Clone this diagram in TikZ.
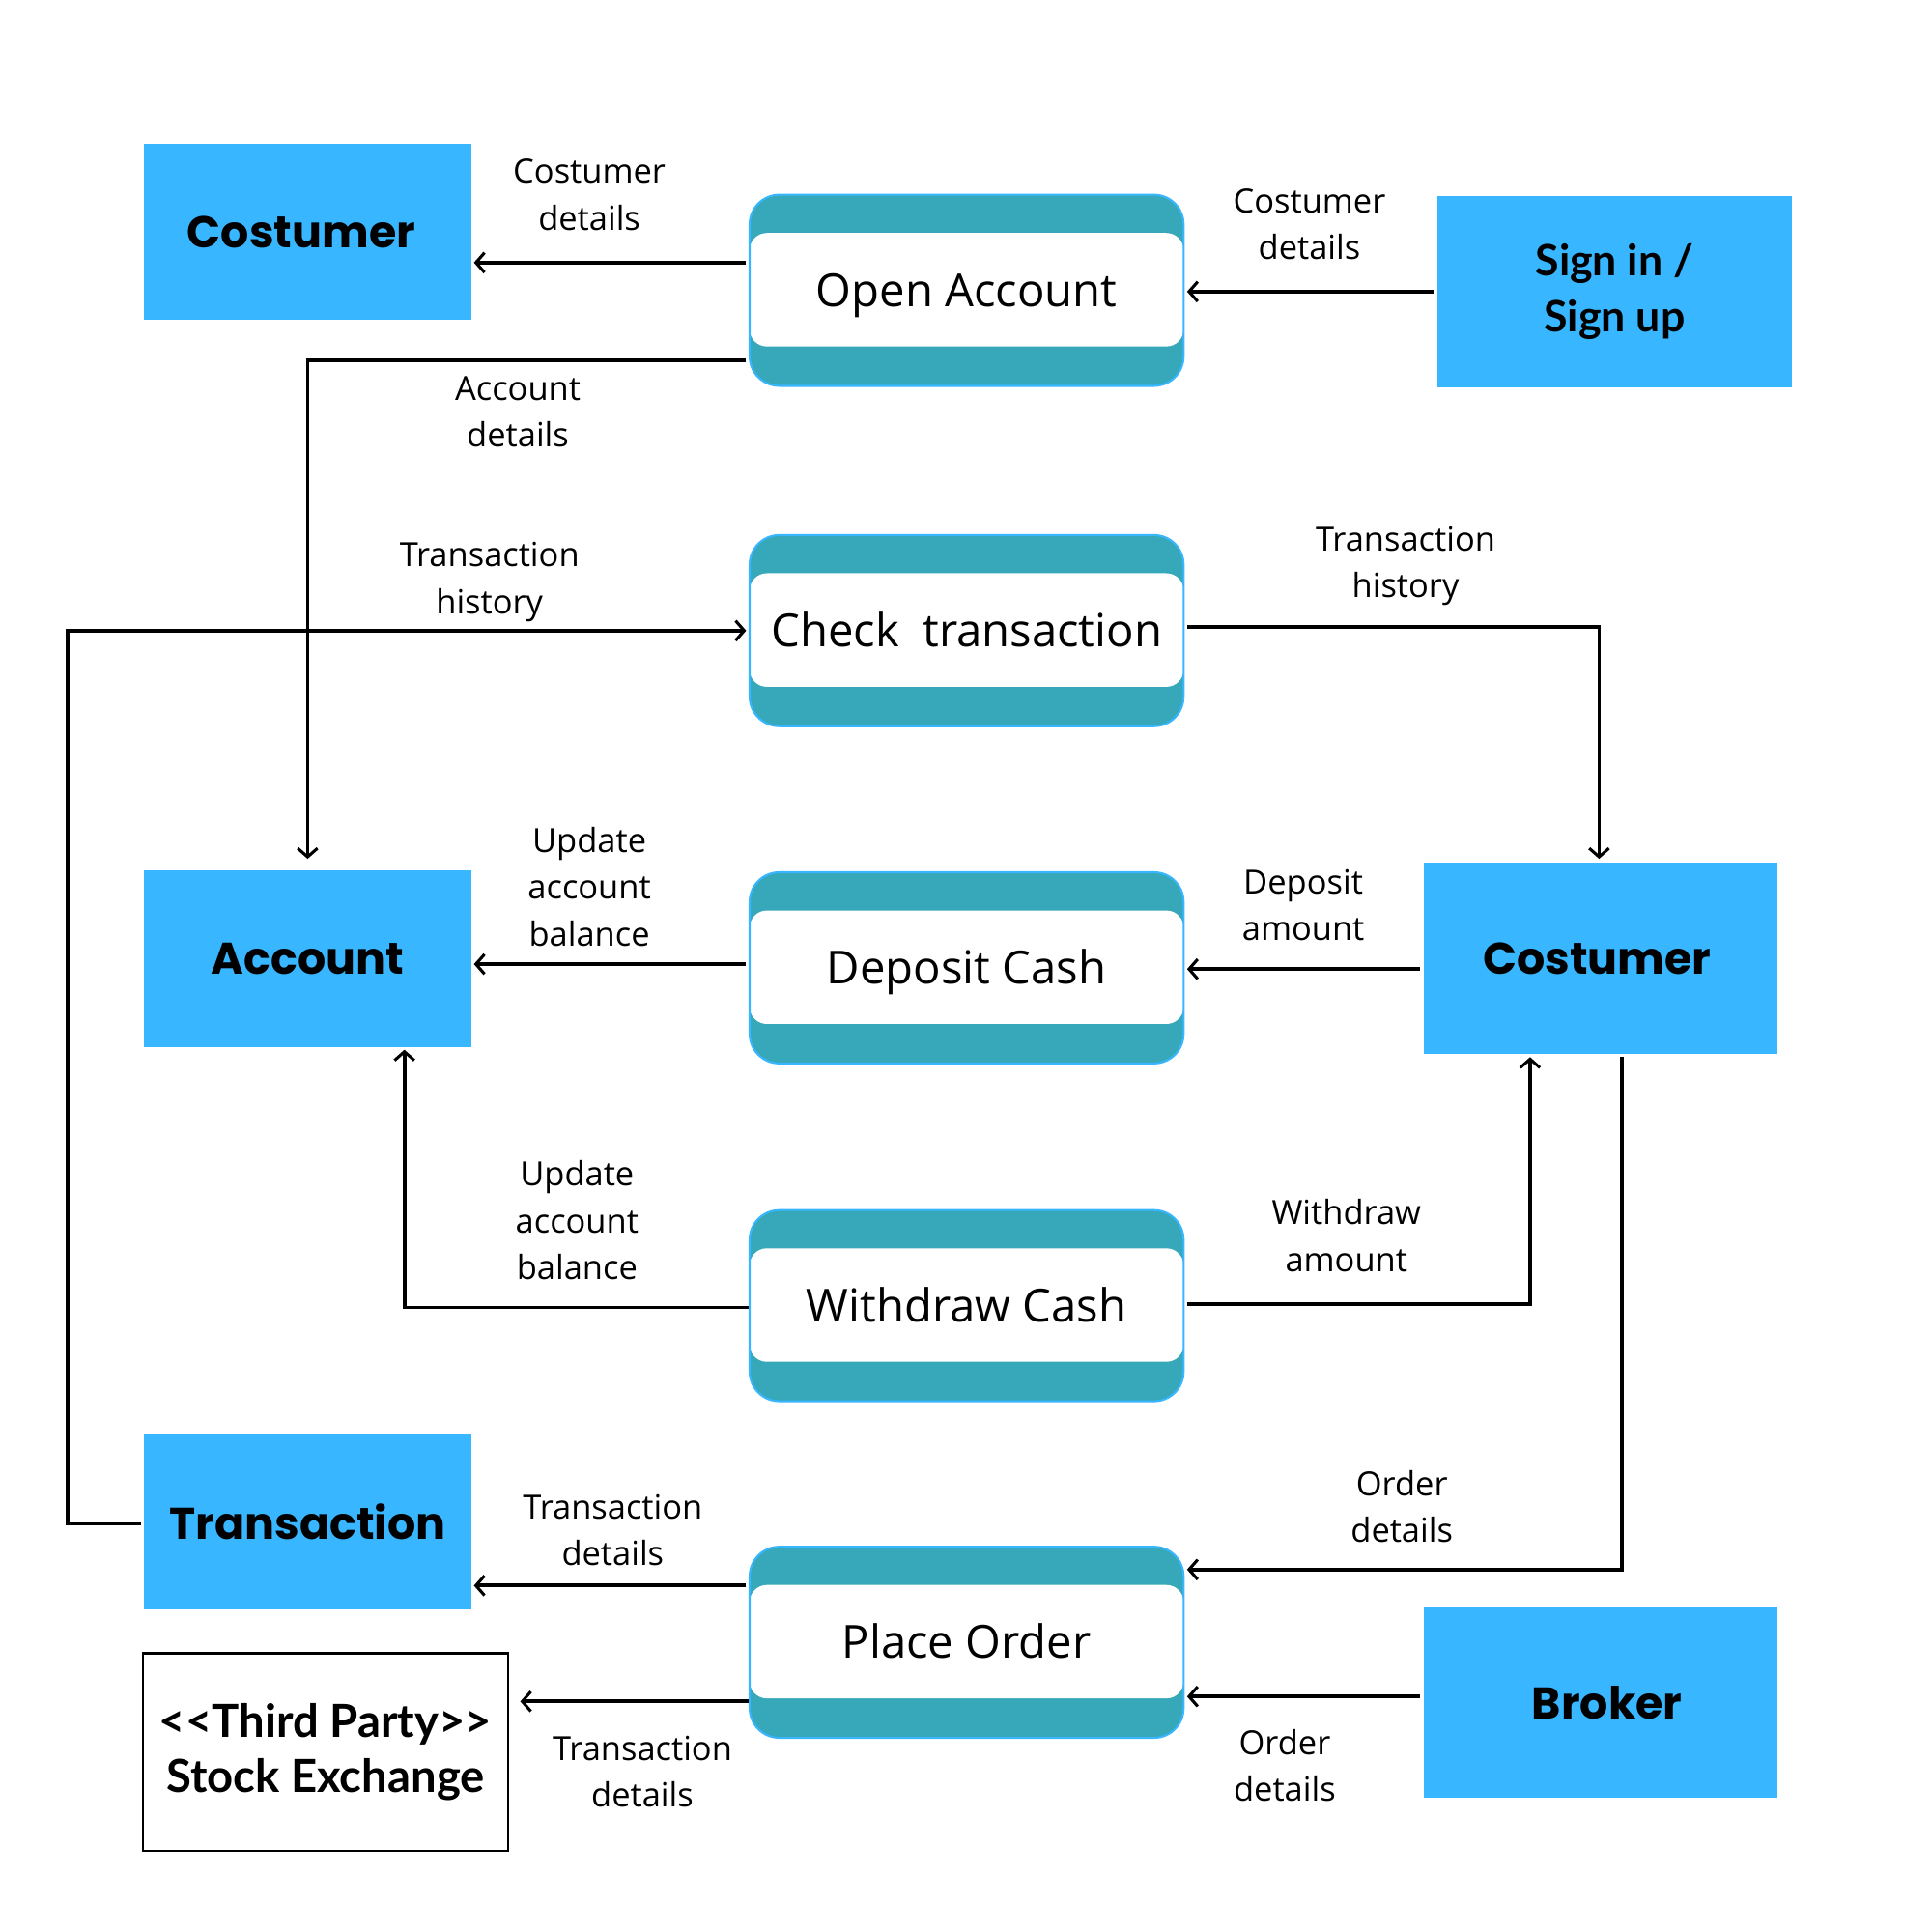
\documentclass[tikz,border=0pt]{standalone}
\usepackage{fontspec}
\setmainfont{Open Sans}
\newfontfamily\boxfont{Poppins}[UprightFont=* Bold]
\newfontfamily\boxfontb{Lato}[UprightFont=* Bold]
\usetikzlibrary{arrows.meta,calc}
\definecolor{skyb}{HTML}{38B6FF}
\definecolor{tealp}{HTML}{36A8B9}
\tikzset{
  ent/.style={fill=skyb, inner sep=0pt, align=center, font=\boxfont\fontsize{18}{22}\selectfont},
  entb/.style={ent, font=\boxfontb\fontsize{17.5}{22.5}\selectfont},
  proc/.style={fill=tealp, draw=skyb, line width=0.8pt, rounded corners=12pt,
    minimum width=176pt, minimum height=77.5pt, inner sep=0pt,
    text height=13.2pt, text depth=0pt,
    font=\fontsize{18.5}{22}\selectfont,
    path picture={\fill[white, rounded corners=7pt]
      ([yshift=-15.5pt]path picture bounding box.north west) rectangle
      ([yshift=16pt]path picture bounding box.south east);}},
  lbl/.style={align=center, font=\fontsize{13.5}{19}\selectfont, inner sep=0pt},
  arr/.style={line width=1.5pt, -{Straight Barb[length=3.5pt,width=8pt,line width=1.2pt]}},
  ln/.style={line width=1.5pt}
}
\begin{document}
\begin{tikzpicture}[x=0.5pt, y=-0.5pt]
\useasboundingbox (0,0) rectangle (1567,1567);
% entities
\node[ent, minimum width=132.5pt, minimum height=71pt] (cust1) at (249.5,188) {\hspace*{-5pt}Costumer};
\node[entb, minimum width=143.5pt, minimum height=77.5pt] (sign) at (1309.5,236.5) {Sign in /\\Sign up};
\node[ent, minimum width=132.5pt, minimum height=71.5pt] (acc) at (249.5,777.5) {Account};
\node[ent, minimum width=143.5pt, minimum height=77.5pt] (cust2) at (1298.5,777.5) {\hspace*{-3pt}Costumer};
\node[ent, minimum width=132.5pt, minimum height=71pt] (trans) at (249.5,1234) {Transaction};
\node[ent, minimum width=143.5pt, minimum height=77pt] (broker) at (1298.5,1381) {\hspace*{5pt}Broker};
\node[draw=black, line width=1pt, minimum width=148pt, minimum height=80pt, inner sep=0pt, align=center,
  font=\boxfontb\fontsize{18.5}{22.5}\selectfont] (third) at (264,1421) {{<}{<}Third Party{>}{>}\\Stock Exchange};
% processes
\node[proc] (oa) at (784,235.5) {Open Account};
\node[proc] (ct) at (784,511.5) {Check\ \ transaction};
\node[proc] (dc) at (784,785) {Deposit Cash};
\node[proc] (wc) at (784,1059) {Withdraw Cash};
\node[proc] (po) at (784,1332) {Place Order};
% connectors
\draw[arr] ($(oa.west)+(-2,-22.5)$) coordinate (s1) -- ($(cust1.east |- s1)+(2,0)$);
\draw[arr] ($(sign.west)+(-3,0)$) -- ($(oa.east |- sign.west)+(2,0)$);
\draw[arr] ($(oa.west)+(-2,57)$) -| ($(acc.north)+(0,-9)$);
\draw[arr] ($(trans.west)+(-2,2)$) -- ++(-60,0) |- ($(ct.west)+(-2,0)$);
\draw[arr] ($(ct.east)+(2,-3)$) -| ($(cust2.north)+(-1.5,-3)$);
\draw[arr] ($(dc.west)+(-2,-3)$) coordinate (s6) -- ($(acc.east |- s6)+(2,0)$);
\draw[arr] ($(cust2.west)+(-3,8.5)$) coordinate (s7) -- ($(dc.east |- s7)+(2,0)$);
\draw[arr] ($(wc.west)+(0,1.5)$) -| ($(acc.south)+(78.5,2)$);
\draw[arr] ($(wc.east)+(2,-1)$) -| ($(cust2.south)+(-57.5,2)$);
\draw[arr] ($(cust2.south)+(17,2)$) |- ($(po.east)+(2,-59)$);
\draw[arr] ($(po.west)+(-2,-46)$) coordinate (s11) -- ($(trans.east |- s11)+(2,0)$);
\draw[arr] ($(po.west)+(0,48)$) coordinate (s12) -- ($(third.east |- s12)+(9,0)$);
\draw[arr] ($(broker.west)+(-3,-5)$) coordinate (s13) -- ($(po.east |- s13)+(2,0)$);
% labels
\node[lbl] (l1) at (478,158) {Costumer\\details};
\node[lbl] (l2) at (1062,182) {Costumer\\details};
\node[lbl] (l3) at (420,334) {Account\\details};
\node[lbl] (l4) at (397,472) {Transaction\\history};
\node[lbl] (l5) at (1140,459) {Transaction\\history};
\node[lbl] (l6) at (478,719) {Update\\account\\balance};
\node[lbl] (l7) at (1057,734) {Deposit\\amount};
\node[lbl] (l8) at (468,990) {Update\\account\\balance};
\node[lbl] (l9) at (1092,1002) {Withdraw\\amount};
\node[lbl] (l10) at (1137,1222) {Order\\details};
\node[lbl] (l11) at (497,1241) {Transaction\\details};
\node[lbl] (l12) at (521,1437) {Transaction\\details};
\node[lbl] (l13) at (1042,1432) {Order\\details};
\end{tikzpicture}
\end{document}
